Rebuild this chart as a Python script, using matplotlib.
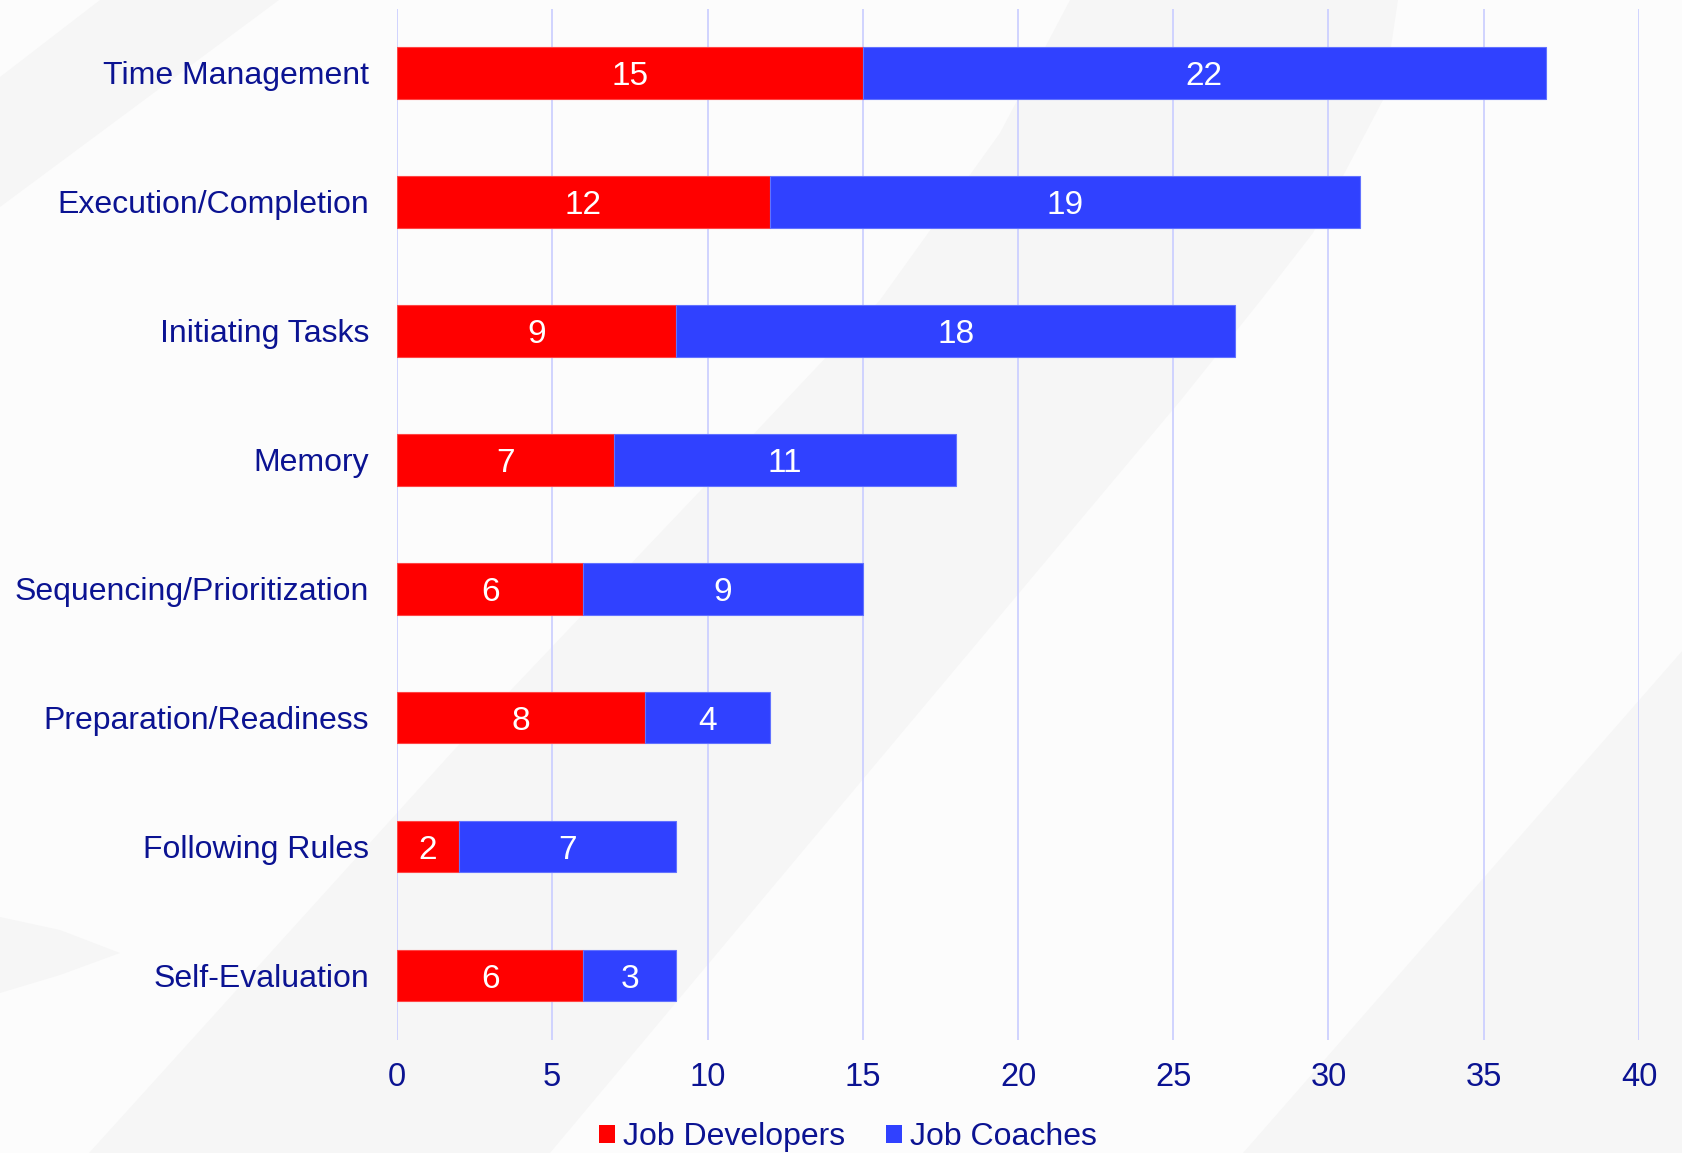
import numpy as np
import matplotlib
matplotlib.use('Agg')
import matplotlib.pyplot as plt
from matplotlib.patches import Polygon, Patch

# data, top to bottom as in the chart
categories = ['Time Management', 'Execution/Completion', 'Initiating Tasks', 'Memory',
              'Sequencing/Prioritization', 'Preparation/Readiness', 'Following Rules',
              'Self-Evaluation']
job_developers = [15, 12, 9, 7, 6, 8, 2, 6]
job_coaches = [22, 19, 18, 11, 9, 4, 7, 3]
series_names = ['Job Developers', 'Job Coaches']
x_ticks = [0, 5, 10, 15, 20, 25, 30, 35, 40]

RED = '#FF0000'
BLUE = '#3041FF'
NAVY = '#0B1392'
GRID = '#CDD0FF'
BG = '#FCFCFC'
SWOOSH = '#F6F6F6'

plt.rcParams['font.family'] = ['Liberation Sans', 'DejaVu Sans']

W, H = 1683, 1153
fig = plt.figure(figsize=(W / 100, H / 100), dpi=100, facecolor=BG)


def px(points):
    # pixel (x, y from top) -> figure fraction
    return [(x / W, 1 - y / H) for x, y in points]


# faint background swooshes
shapes = [
    [(0, 77), (100, 0), (279, 0), (0, 207)],
    [(1070, 0), (1000, 133), (880, 300), (700, 491), (454, 750), (89, 1153),
     (550, 1153), (900, 735), (1181, 400), (1261, 300), (1313, 233), (1383, 100), (1398, 0)],
    [(1683, 650), (1243, 1153), (1683, 1153)],
    [(0, 917), (60, 930), (120, 953), (60, 975), (0, 993)],
]
for pts in shapes:
    fig.add_artist(Polygon(px(pts), closed=True, transform=fig.transFigure,
                           facecolor=SWOOSH, edgecolor='none', zorder=-1))

ax = fig.add_axes([397 / W, 1 - 1040 / H, (1639 - 397) / W, (1040 - 8.5) / H])
ax.set_facecolor('none')

y = np.arange(len(categories))
b1 = ax.barh(y, job_developers, height=0.4, color=RED, edgecolor='#FF4545',
             linewidth=0.8, label=series_names[0], zorder=3)
b2 = ax.barh(y, job_coaches, left=job_developers, height=0.4, color=BLUE,
             edgecolor='#6272FF', linewidth=0.8, label=series_names[1], zorder=3)
for bars in (b1, b2):
    for t in ax.bar_label(bars, label_type='center', color='white', fontsize=24):
        t.set_va('center_baseline')

ax.set_xlim(0, 40)
ax.set_ylim(len(categories) - 0.5, -0.5)
ax.set_xticks(x_ticks)
ax.set_yticks(y)
ax.set_yticklabels(categories, fontsize=23)
ax.xaxis.grid(True, color=GRID, linewidth=1.3)
ax.set_axisbelow(True)
for s in ax.spines.values():
    s.set_visible(False)
ax.tick_params(axis='x', length=0, pad=16, labelsize=23.5, colors=NAVY)
ax.tick_params(axis='y', length=0, pad=20, colors=NAVY)

handles = [Patch(facecolor=RED), Patch(facecolor=BLUE)]
fig.legend(handles, series_names, loc='center', bbox_to_anchor=(848 / W, 1 - 1137 / H),
           ncol=2, frameon=False, fontsize=23, labelcolor=NAVY,
           handlelength=0.5, handleheight=0.5, handletextpad=0.25, columnspacing=1.3)

fig.savefig('out.png', dpi=100, facecolor=fig.get_facecolor())
